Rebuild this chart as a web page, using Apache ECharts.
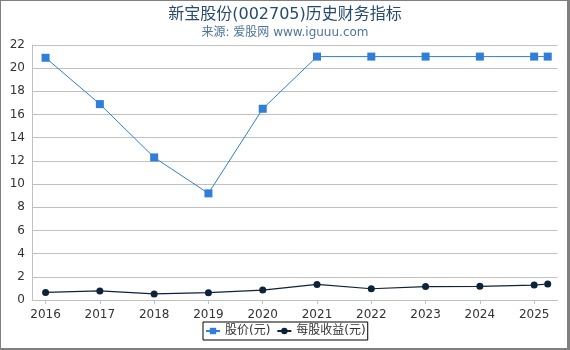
<!DOCTYPE html>
<html>
<head>
<meta charset="utf-8">
<script src="https://cdn.jsdelivr.net/npm/echarts@6/dist/echarts.min.js"></script>
<style>
  html, body { margin: 0; padding: 0; background: #fff; }
  #wrap { position: relative; width: 570px; height: 350px; }
  #chart { position: absolute; left: 0; top: 0; width: 570px; height: 350px; }
  #frame {
    position: absolute; left: 0; top: 0; width: 570px; height: 350px;
    box-sizing: border-box; pointer-events: none;
    border-left: 1px solid #808080; border-top: 1px solid #808080;
    border-right: 3px solid #808080; border-bottom: 2px solid #808080;
  }
</style>
</head>
<body>
<div id="wrap"><div id="chart"></div><div id="frame"></div></div>
<script>
// 年份 (最后一点为2025年一季度)
const years = [2016, 2017, 2018, 2019, 2020, 2021, 2022, 2023, 2024, 2025, 2025.25];
const price = [20.9, 16.9, 12.3, 9.2, 16.5, 21.0, 21.0, 21.0, 21.0, 21.0, 21.0];
const eps = [0.65, 0.78, 0.52, 0.63, 0.86, 1.34, 0.97, 1.16, 1.18, 1.29, 1.38];
const yearTicks = [2016, 2017, 2018, 2019, 2020, 2021, 2022, 2023, 2024, 2025];

const font = 'DejaVu Sans, "Noto Sans CJK SC", sans-serif';
const pair = arr => years.map((x, i) => [x, arr[i]]);

const chart = echarts.init(document.getElementById('chart'), null, { renderer: 'canvas' });
chart.setOption({
  animation: false,
  title: {
    text: '新宝股份(002705)历史财务指标',
    subtext: '来源: 爱股网 www.iguuu.com',
    left: 'center',
    top: 2,
    itemGap: 4,
    textStyle: { fontFamily: font, fontSize: 16, fontWeight: 'normal', color: '#274b6d' },
    subtextStyle: { fontFamily: font, fontSize: 12, color: '#4d759e' }
  },
  legend: {
    left: 203,
    top: 322,
    padding: [3, 2],
    itemGap: 6,
    itemWidth: 14,
    itemHeight: 8,
    borderColor: '#000',
    borderWidth: 1,
    borderRadius: 0,
    textStyle: { fontFamily: font, fontSize: 12, color: '#333' },
    data: ['股价(元)', '每股收益(元)']
  },
  grid: { left: 32, right: 12.5, top: 45, bottom: 50, containLabel: false },
  xAxis: {
    type: 'value',
    min: 2015.75,
    max: 2025.43,
    offset: 4,
    axisLine: { lineStyle: { color: '#c0c0c0' } },
    axisTick: { show: true, customValues: yearTicks, length: 4, lineStyle: { color: '#c0c0c0' } },
    axisLabel: { customValues: yearTicks, margin: 5, fontFamily: font, fontSize: 12, color: '#333', formatter: v => String(v) },
    splitLine: { show: false }
  },
  yAxis: {
    type: 'value',
    min: 0,
    max: 22,
    interval: 2,
    axisLine: { show: true, lineStyle: { color: '#c0c0c0' } },
    axisTick: { show: false },
    axisLabel: { margin: 7, fontFamily: font, fontSize: 12, color: '#333' },
    splitLine: { lineStyle: { color: '#c0c0c0' } }
  },
  series: [
    {
      name: '股价(元)',
      type: 'line',
      data: pair(price),
      symbol: 'rect',
      symbolSize: 8,
      color: '#2f7ed8',
      lineStyle: { width: 1 },
      itemStyle: { color: '#2f7ed8' }
    },
    {
      name: '每股收益(元)',
      type: 'line',
      data: pair(eps),
      symbol: 'circle',
      symbolSize: 7,
      color: '#0d233a',
      lineStyle: { width: 1.2 },
      itemStyle: { color: '#0d233a' }
    }
  ]
});
</script>
</body>
</html>
